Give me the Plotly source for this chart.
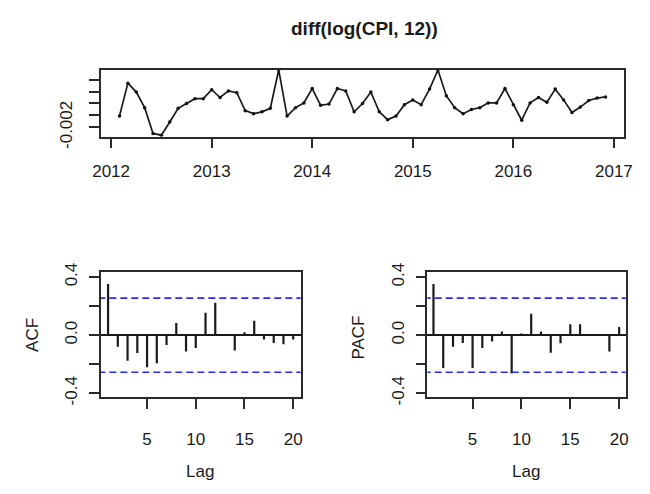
import plotly.graph_objects as go

# ---- data ----
start_year = 2012
start_month = 2  # Feb 2012 .. Dec 2016, monthly
series = [-0.0001, 0.0054, 0.0039, 0.0013, -0.0030, -0.0033, -0.0011, 0.0012, 0.0020, 0.0028,
          0.0028, 0.0043, 0.0030, 0.0041, 0.0038, 0.0008, 0.0003, 0.0006, 0.0012, 0.0076,
          -0.0001, 0.0013, 0.0021, 0.0045, 0.0017, 0.0019, 0.0045, 0.0041, 0.0006, 0.0020,
          0.0039, 0.0006, -0.0007, -0.0001, 0.0018, 0.0026, 0.0018, 0.0044, 0.0076, 0.0033,
          0.0013, 0.0003, 0.0010, 0.0013, 0.0021, 0.0021, 0.0045, 0.0018, -0.0008, 0.0021,
          0.0030, 0.0022, 0.0044, 0.0026, 0.0005, 0.0014, 0.0025, 0.0029, 0.0031]
times = [start_year + (start_month - 1 + i) / 12 for i in range(len(series))]

lags = list(range(1, 21))
acf_vals = [0.352, -0.079, -0.176, -0.123, -0.220, -0.193, -0.068, 0.084, -0.112, -0.088,
            0.154, 0.224, 0.003, -0.105, 0.020, 0.099, -0.029, -0.053, -0.062, -0.029]
pacf_vals = [0.352, -0.226, -0.079, -0.053, -0.226, -0.088, -0.044, 0.026, -0.264, 0.011,
             0.147, 0.026, -0.121, -0.055, 0.075, 0.075, 0.003, 0.002, -0.112, 0.057]
conf_bounds = [0.255, -0.255]

year_ticks = [2012, 2013, 2014, 2015, 2016, 2017]
ts_yticks = [-0.002, 0.0, 0.002, 0.004, 0.006]
ts_yticktext = ["-0.002", "", "", "", ""]
cf_yticks = [-0.4, -0.2, 0.0, 0.2, 0.4]
cf_yticktext = ["-0.4", "", "0.0", "", "0.4"]
lag_ticks = [5, 10, 15, 20]

title_text = "diff(log(CPI, 12))"

# ---- figure ----
W, H = 650, 494
FONT = "Liberation Sans, Arial, sans-serif"
TXT = "#1a1a1a"
LINE = "#2a2a2a"


def px_x(p):
    return p / W


def px_y(p):
    return 1 - p / H


fig = go.Figure()

fig.add_trace(go.Scatter(x=times, y=series, mode="lines+markers",
                         line=dict(color="#1a1a1a", width=1.7),
                         marker=dict(color="#111111", size=3.5),
                         xaxis="x", yaxis="y", showlegend=False, hoverinfo="skip"))


def stems(vals):
    xs, ys = [], []
    for l, v in zip(lags, vals):
        xs += [l, l, None]
        ys += [0, v, None]
    return xs, ys


for vals, xa, ya in [(acf_vals, "x2", "y2"), (pacf_vals, "x3", "y3")]:
    sx, sy = stems(vals)
    fig.add_trace(go.Scatter(x=sx, y=sy, mode="lines",
                             line=dict(color="#1a1a1a", width=2.2),
                             xaxis=xa, yaxis=ya, showlegend=False, hoverinfo="skip"))
    for b in conf_bounds:
        fig.add_trace(go.Scatter(x=[0, 21], y=[b, b], mode="lines",
                                 line=dict(color="#2a2ae6", width=1.7, dash="7px,4px"),
                                 xaxis=xa, yaxis=ya, showlegend=False, hoverinfo="skip"))

axis_common = dict(showline=True, linecolor=LINE, linewidth=1.7, mirror=True,
                   ticks="outside", ticklen=10, tickwidth=1.7, tickcolor=LINE,
                   showgrid=False, zeroline=False,
                   tickfont=dict(family=FONT, size=17, color=TXT))

fig.update_layout(
    width=W, height=H, margin=dict(l=0, r=0, t=0, b=0),
    paper_bgcolor="white", plot_bgcolor="white",
    xaxis=dict(axis_common, domain=[px_x(95), px_x(631.7)], range=[2011.896, 2017.102],
               tickvals=year_ticks, anchor="y", ticklabelstandoff=8),
    yaxis=dict(axis_common, domain=[px_y(133.3), px_y(63.3)], range=[-0.00354, 0.00766],
               tickvals=ts_yticks, ticktext=ts_yticktext, tickangle=-90, anchor="x",
               ticklabelstandoff=10),
    xaxis2=dict(axis_common, domain=[px_x(95), px_x(300)], range=[0.24, 20.76],
                tickvals=lag_ticks, anchor="y2", ticklabelstandoff=16),
    yaxis2=dict(axis_common, domain=[px_y(405), px_y(275)], range=[-0.424, 0.433],
                tickvals=cf_yticks, ticktext=cf_yticktext, tickangle=-90, anchor="x2",
                ticklabelstandoff=5,
                zeroline=True, zerolinecolor="#1a1a1a", zerolinewidth=1.7),
    xaxis3=dict(axis_common, domain=[px_x(430), px_x(633.3)], range=[0.38, 20.67],
                tickvals=lag_ticks, anchor="y3", ticklabelstandoff=16),
    yaxis3=dict(axis_common, domain=[px_y(405), px_y(275)], range=[-0.424, 0.433],
                tickvals=cf_yticks, ticktext=cf_yticktext, tickangle=-90, anchor="x3",
                ticklabelstandoff=5,
                zeroline=True, zerolinecolor="#1a1a1a", zerolinewidth=1.7),
)

annots = [
    dict(text="<b>" + title_text + "</b>", x=px_x(366), y=px_y(20), size=19),
    dict(text="ACF", x=px_x(25), y=px_y(340), size=17, angle=-90),
    dict(text="PACF", x=px_x(359), y=px_y(343), size=17, angle=-90),
    dict(text="Lag", x=px_x(197), y=px_y(483), size=17),
    dict(text="Lag", x=px_x(531.5), y=px_y(483), size=17),
]
for a in annots:
    fig.add_annotation(text=a["text"], x=a["x"], y=a["y"], xref="paper", yref="paper",
                       showarrow=False, xanchor="center", yanchor="middle",
                       textangle=a.get("angle", 0),
                       font=dict(family=FONT, size=a["size"], color=TXT))

fig.write_html("out.html")
